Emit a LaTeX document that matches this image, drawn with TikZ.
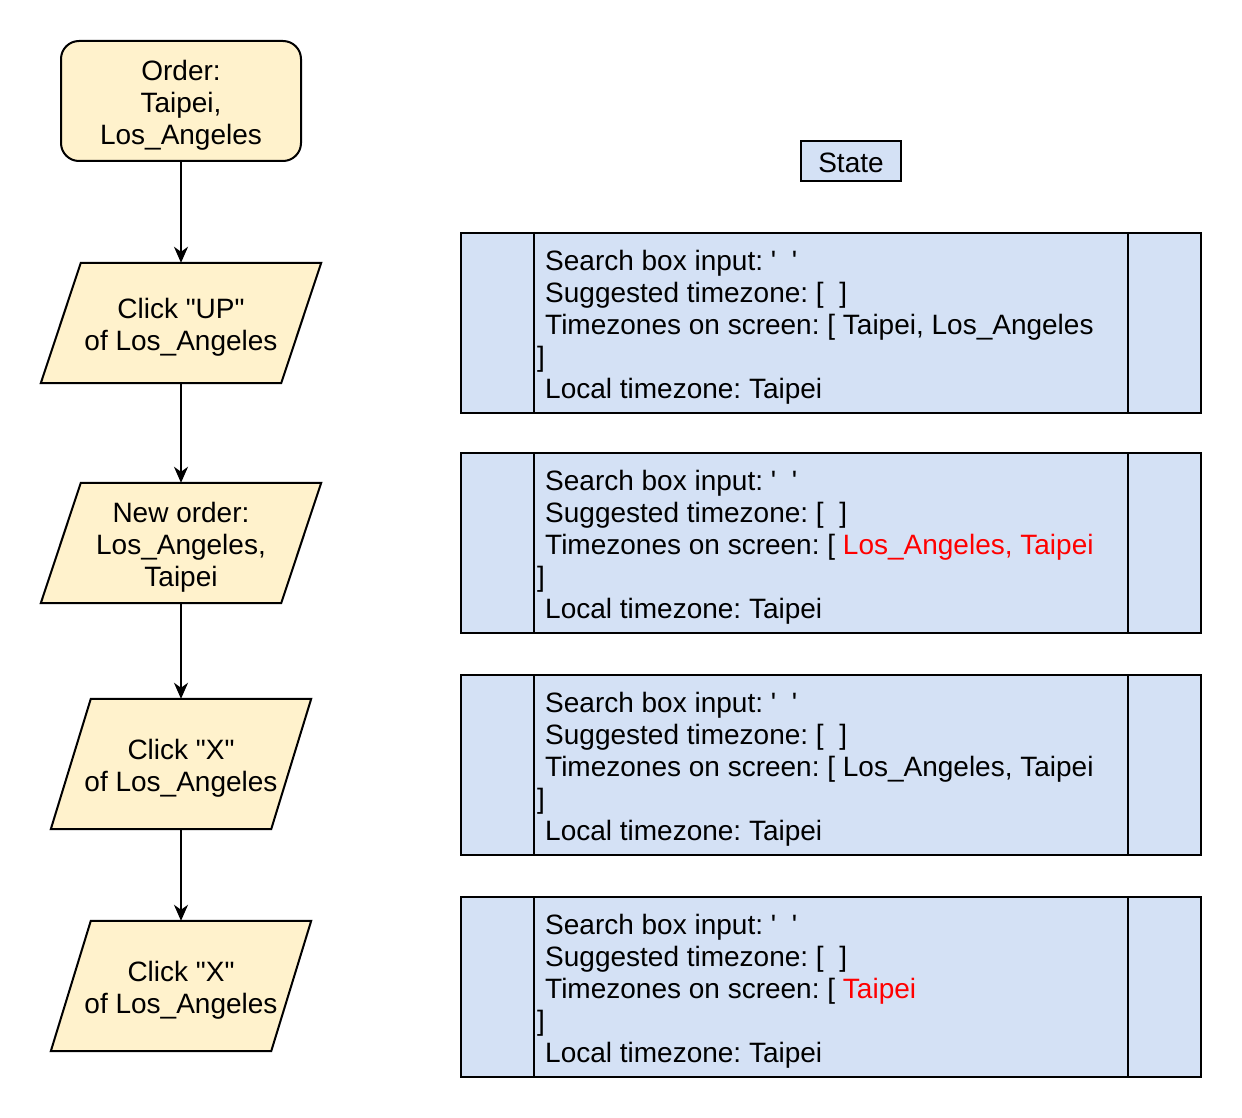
\documentclass[tikz,border=0pt]{standalone}
\usepackage{fontspec}
\setmainfont{Liberation Sans}[Ligatures=TeXOff]
\usetikzlibrary{arrows.meta,backgrounds}
\definecolor{yfill}{HTML}{FFF2CC}
\definecolor{bfill}{HTML}{D4E1F5}
\definecolor{redtxt}{HTML}{FF0000}
\newcommand{\dq}{\symbol{34}}
\newcommand{\sq}{\symbol{39}}
\tikzset{
  txt/.style={font=\fontsize{28}{32}\selectfont\frenchspacing, inner sep=0pt},
  startbox/.style={draw, line width=2pt, fill=yfill, rounded corners=18pt, minimum width=240pt, minimum height=120pt},
  iobox/.style={minimum width=280pt, minimum height=120pt, inner sep=0pt},
  iofill/.style={draw, line width=2pt, fill=yfill},
  statebox/.style={draw, line width=2pt, fill=bfill, minimum width=740pt, minimum height=180pt},
  statelbl/.style={draw, line width=2pt, fill=bfill, minimum width=100pt, minimum height=40pt},
  inner/.style={line width=2pt},
  flow/.style={line width=2pt, -{Stealth[length=16pt,width=14pt,inset=5pt]}},
}
\newcommand{\para}[2]{%
  \begin{scope}[on background layer]
    \filldraw[iofill] ([xshift=#2]#1.north west) -- (#1.north east) -- ([xshift=-#2]#1.south east) -- (#1.south west) -- cycle;
  \end{scope}}
\begin{document}
\begin{tikzpicture}[x=1pt,y=-1pt]
\useasboundingbox (0,0) rectangle (1242,1118);

% left flow
\node[startbox] (order) at (181,101) {};
\node[txt, align=center] (orderT) at ([yshift=-4pt]order.center) {Order:\\Taipei,\\Los\_Angeles};
\node[iobox] (up) at (181,323) {};
\para{up}{40pt}
\node[txt, align=center] (upT) at ([yshift=-4pt]up.center) {Click \dq UP\dq\\of Los\_Angeles};
\node[iobox] (neworder) at (181,543) {};
\para{neworder}{40pt}
\node[txt, align=center] (neworderT) at ([yshift=-4pt]neworder.center) {New order:\\Los\_Angeles,\\Taipei};
\node[iobox, minimum width=260pt, minimum height=130pt] (x1) at (181,764) {};
\para{x1}{40pt}
\node[txt, align=center] (x1T) at ([yshift=-4pt]x1.center) {Click \dq X\dq\\of Los\_Angeles};
\node[iobox, minimum width=260pt, minimum height=130pt] (x2) at (181,986) {};
\para{x2}{40pt}
\node[txt, align=center] (x2T) at ([yshift=-4pt]x2.center) {Click \dq X\dq\\of Los\_Angeles};

\draw[flow] (order.south) -- (up.north);
\draw[flow] (up.south) -- (neworder.north);
\draw[flow] (neworder.south) -- (x1.north);
\draw[flow] (x1.south) -- (x2.north);

% state label
\node[statelbl] (state) at (851,161) {};
\node[txt] (stateT) at ([yshift=-2pt]state.center) {State};

% state boxes
\foreach \n/\y in {s1/323, s2/543, s3/765, s4/987}{
  \node[statebox] (\n) at (831,\y) {};
  \draw[inner] ([xshift=74pt]\n.north west) -- ([xshift=74pt]\n.south west);
  \draw[inner] ([xshift=-74pt]\n.north east) -- ([xshift=-74pt]\n.south east);
}
\node[txt, anchor=west, align=left] (t1) at ([xshift=77pt,yshift=-4pt]s1.west) {%
\hspace*{8pt}Search box input: \sq\ \ \sq\\
\hspace*{8pt}Suggested timezone: [\ \ ]\\
\hspace*{8pt}Timezones on screen: [ Taipei, Los\_Angeles\\
]\\
\hspace*{8pt}Local timezone: Taipei};
\node[txt, anchor=west, align=left] (t2) at ([xshift=77pt,yshift=-4pt]s2.west) {%
\hspace*{8pt}Search box input: \sq\ \ \sq\\
\hspace*{8pt}Suggested timezone: [\ \ ]\\
\hspace*{8pt}Timezones on screen: [ \textcolor{redtxt}{Los\_Angeles, Taipei}\\
]\\
\hspace*{8pt}Local timezone: Taipei};
\node[txt, anchor=west, align=left] (t3) at ([xshift=77pt,yshift=-4pt]s3.west) {%
\hspace*{8pt}Search box input: \sq\ \ \sq\\
\hspace*{8pt}Suggested timezone: [\ \ ]\\
\hspace*{8pt}Timezones on screen: [ Los\_Angeles, Taipei\\
]\\
\hspace*{8pt}Local timezone: Taipei};
\node[txt, anchor=west, align=left] (t4) at ([xshift=77pt,yshift=-4pt]s4.west) {%
\hspace*{8pt}Search box input: \sq\ \ \sq\\
\hspace*{8pt}Suggested timezone: [\ \ ]\\
\hspace*{8pt}Timezones on screen: [ \textcolor{redtxt}{Taipei}\\
]\\
\hspace*{8pt}Local timezone: Taipei};
\end{tikzpicture}
\end{document}
